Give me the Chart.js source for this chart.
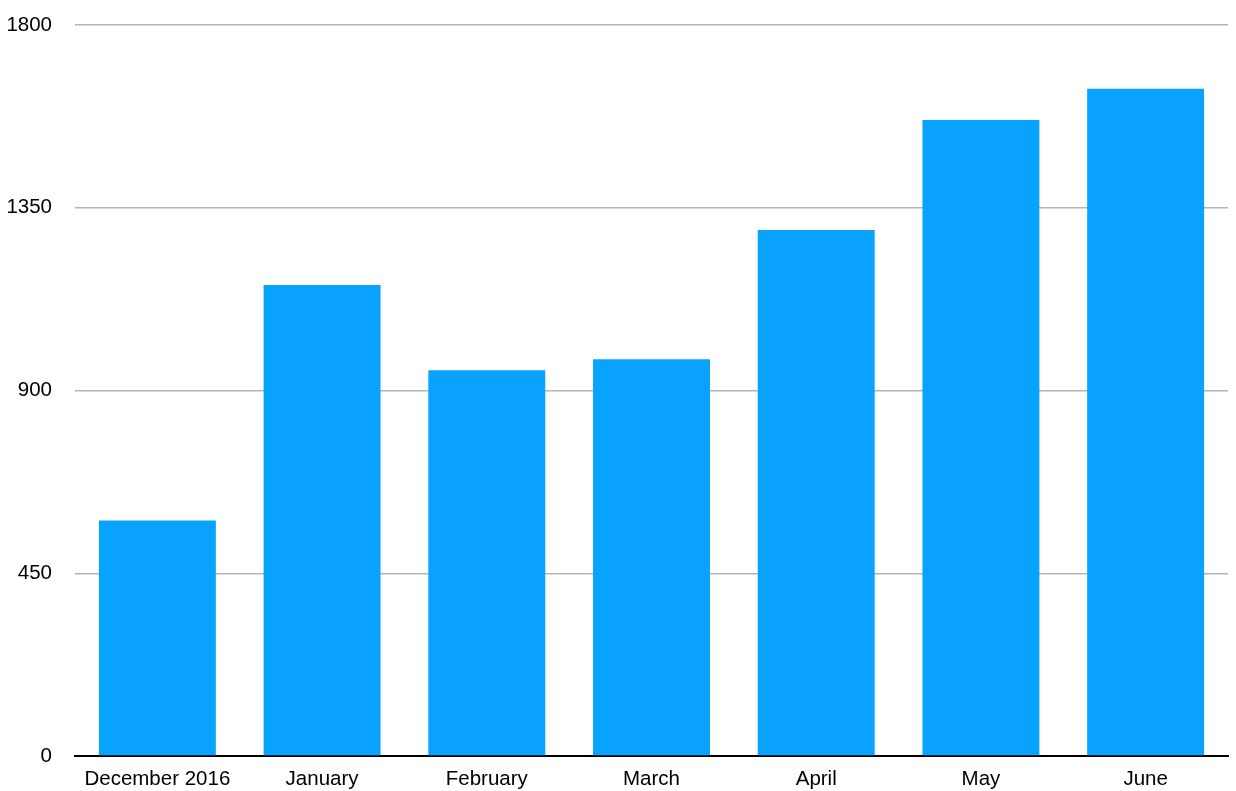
<!DOCTYPE html>
<html>
<head>
<meta charset="utf-8">
<script src="https://cdn.jsdelivr.net/npm/chart.js@4"></script>
<style>
html,body{margin:0;padding:0;background:#fff;}
#wrap{width:1236px;height:791px;}
</style>
</head>
<body>
<div id="wrap"><canvas id="c" width="1236" height="791"></canvas></div>
<script>
const categories = ["December 2016","January","February","March","April","May","June"];
const values = [580, 1160, 950, 977, 1295, 1566, 1643];
const yTicks = [0, 450, 900, 1350, 1800];

new Chart(document.getElementById('c'), {
  type: 'bar',
  data: {
    labels: categories,
    datasets: [{
      data: values,
      backgroundColor: '#0aa2ff',
      borderWidth: 0,
      barPercentage: 0.71,
      categoryPercentage: 1.0
    }]
  },
  options: {
    responsive: false,
    animation: false,
    devicePixelRatio: 1,
    layout: { padding: { top: 25, right: 8, left: 0, bottom: 0 } },
    plugins: { legend: { display: false }, tooltip: { enabled: false } },
    scales: {
      x: {
        grid: { display: false, drawTicks: false },
        border: { display: true, color: '#000', width: 2 },
        ticks: { color: '#000', font: { family: 'Liberation Sans', size: 20.5 }, padding: 11, maxRotation: 0 },
        afterFit: s => { s.height = 35; s.paddingLeft = 0; s.paddingRight = 0; }
      },
      y: {
        min: 0, max: 1800,
        afterBuildTicks: s => { s.ticks = yTicks.map(v => ({ value: v })); },
        grid: { color: '#b5b5b5', lineWidth: 1.5, drawTicks: false },
        border: { display: false },
        ticks: { color: '#000', font: { family: 'Liberation Sans', size: 20.5 }, padding: 23, callback: v => String(v) },
        afterFit: s => { s.width = 75; s.paddingTop = 0; s.paddingBottom = 0; }
      }
    }
  }
});
</script>
</body>
</html>
